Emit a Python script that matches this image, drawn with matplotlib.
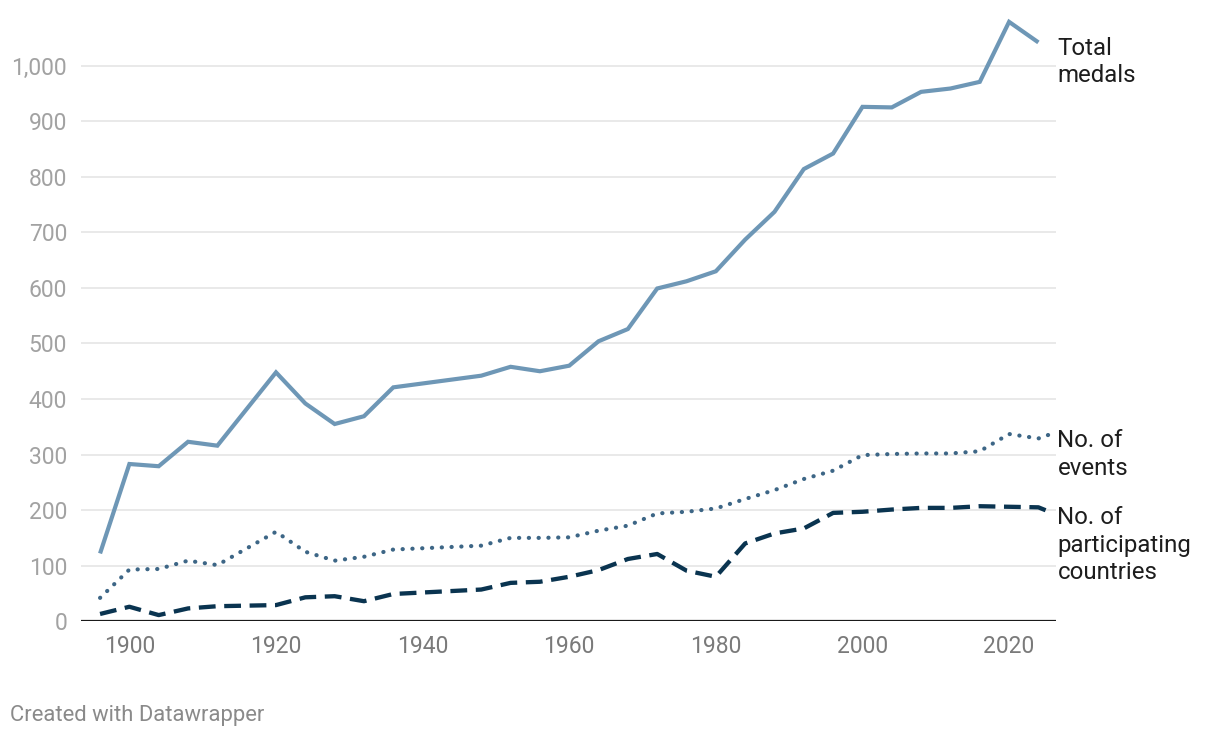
import matplotlib
matplotlib.use("Agg")
import matplotlib.pyplot as plt
from matplotlib.ticker import FuncFormatter

plt.rcParams['font.family'] = ['Roboto', 'DejaVu Sans']

years = [1896, 1900, 1904, 1908, 1912, 1920, 1924, 1928, 1932, 1936, 1948, 1952,
         1956, 1960, 1964, 1968, 1972, 1976, 1980, 1984, 1988, 1992, 1996, 2000,
         2004, 2008, 2012, 2016, 2020, 2024]
total_medals = [122, 283, 279, 323, 316, 448, 392, 355, 369, 421, 442, 458,
                450, 460, 504, 526, 599, 612, 630, 687, 737, 814, 842, 926,
                925, 953, 959, 971, 1079, 1042]

years_ext = years + [2025.5]
events = [42, 93, 94, 109, 101, 161, 125, 109, 116, 129, 136, 150,
          150, 151, 163, 172, 194, 197, 203, 220, 236, 256, 271, 299,
          301, 302, 302, 306, 337, 329, 336]
countries = [13, 26, 11, 23, 27, 29, 43, 45, 36, 49, 57, 69,
             71, 80, 92, 112, 121, 91, 80, 140, 158, 167, 195, 197,
             201, 204, 204, 207, 206, 205, 197]

x_ticks = [1900, 1920, 1940, 1960, 1980, 2000, 2020]
y_ticks = [0, 100, 200, 300, 400, 500, 600, 700, 800, 900, 1000]

c_total = "#6e97b6"
c_events = "#3d6686"
c_countries = "#0a3450"

fig = plt.figure(figsize=(12.2, 7.38), dpi=100)
ax = fig.add_axes([81/1220, (738-621.2)/738, (1056-81)/1220, (621.2-10.2)/738])

ax.plot(years, total_medals, color=c_total, lw=3.0, solid_joinstyle='miter',
        solid_capstyle='butt', zorder=4)
ax.plot(years_ext, events, color=c_events, lw=3.0, linestyle=(0, (0.05, 2.3)),
        dash_capstyle='round', zorder=3)
ax.plot(years_ext, countries, color=c_countries, lw=3.1, linestyle=(0, (3.9, 2.0)),
        dash_capstyle='butt', zorder=3)

ax.set_xlim(1893.4, 2026.4)
ax.set_ylim(0, 1100)
ax.set_xticks(x_ticks)
ax.set_yticks(y_ticks)
ax.yaxis.set_major_formatter(FuncFormatter(lambda v, p: f"{int(v):,}"))

for v in y_ticks[1:]:
    ax.axhline(v, color="#e3e3e3", lw=1.1, zorder=1)
ax.axhline(0, color="#1a1a1a", lw=1.6, zorder=5)

for s in ax.spines.values():
    s.set_visible(False)
ax.tick_params(axis='both', length=0)
ax.tick_params(axis='y', labelsize=16.5, labelcolor="#a2a2a2", pad=10)
ax.tick_params(axis='x', labelsize=16.5, labelcolor="#7a7a7a", pad=10)

labels = [("Total\nmedals", years[-1], total_medals[-1]),
          ("No. of\nevents", years_ext[-1], events[-1]),
          ("No. of\nparticipating\ncountries", years_ext[-1], countries[-1])]
for txt, xv, yv in labels:
    ax.annotate(txt, xy=(2026.4, yv), xytext=(1, 4), textcoords='offset points',
                ha='left', va='top', fontsize=17.3, color="#1d1d1d",
                linespacing=1.25, annotation_clip=False)

fig.text(10/1220, 1-715/738, "Created with Datawrapper", fontsize=15.8,
         color="#8a8a8a", ha='left', va='center')

fig.savefig("out.png", dpi=100)
